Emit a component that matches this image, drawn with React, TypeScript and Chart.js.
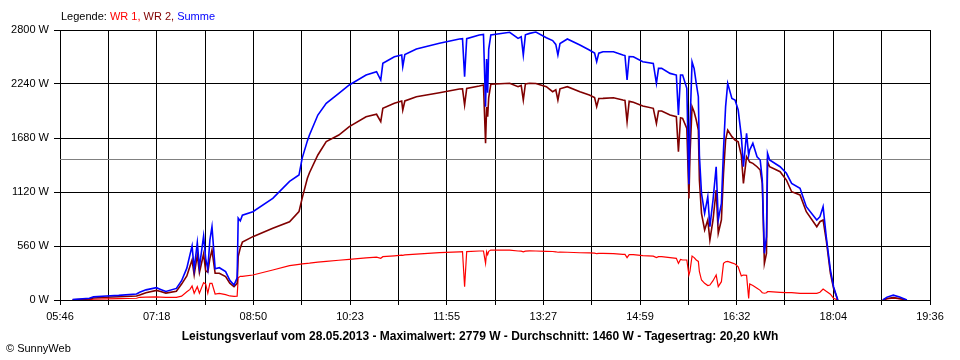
import React, { useEffect, useRef } from "react";
import { Chart, registerables } from "chart.js";

Chart.register(...registerables);

// ---- data ----
const times = [
  "05:58","06:14","06:18","06:30","06:42","06:59","07:02","07:08","07:18","07:22",
  "07:27","07:37","07:42","07:47","07:50","07:52","07:54","07:57","07:59","08:03",
  "08:05","08:07","08:09","08:11","08:14","08:18","08:24","08:28","08:32","08:35",
  "08:36","08:38","08:40","08:50","09:09","09:25","09:34","09:37","09:42","09:44",
  "09:52","10:00","10:12","10:22","10:38","10:48","10:52","10:54","11:05","11:12",
  "11:13","11:15","11:26","11:48","12:07","12:10","12:12","12:14","12:26","12:30",
  "12:32","12:33","12:34","12:35","12:37","12:55","13:03","13:06","13:08","13:10",
  "13:14","13:20","13:30","13:36","13:39","13:41","13:43","13:50","14:02","14:11",
  "14:16","14:18","14:20","14:24","14:34","14:43","14:45","14:47","14:49","14:53",
  "15:02","15:12","15:15","15:17","15:20","15:28","15:34","15:36","15:38","15:40",
  "15:44","15:46","15:47","15:49","15:51","15:53","15:55","15:56","15:58","16:01",
  "16:04","16:06","16:09","16:12","16:14","16:17","16:19","16:21","16:23","16:27",
  "16:30","16:33","16:36","16:38","16:41","16:43","16:44","16:47","16:51","16:54",
  "16:56","16:58","17:00","17:01","17:03","17:13","17:19","17:24","17:32","17:38",
  "17:48","17:51","17:54","17:57","18:01","18:04","18:08","18:30","18:51","18:55",
  "19:01","19:07","19:14"
];

const summe = [
  5,18,32,42,48,62,80,105,128,110,
  88,120,200,330,470,560,320,594,340,664,
  430,320,620,760,325,335,295,205,155,230,
  850,820,880,916,1054,1230,1296,1469,1650,1711,
  1918,2040,2143,2230,2333,2368,2281,2454,2523,2540,
  2420,2545,2603,2662,2707,2710,2316,2710,2748,2755,
  2005,2500,2150,2600,2748,2776,2713,2730,2540,2750,
  2765,2779,2720,2690,2650,2540,2660,2707,2644,2592,
  2560,2471,2560,2575,2575,2540,2535,2281,2525,2523,
  2471,2454,2247,2402,2402,2350,2333,1918,2333,2333,
  2195,1200,1800,2471,2400,2247,2108,1500,1106,899,
  1071,760,1037,1382,830,1003,1556,2005,2247,2091,
  2074,1970,1700,1382,1729,1500,1556,1625,1486,1452,
  1244,484,657,1521,1452,1382,1314,1210,1158,968,
  830,864,968,657,311,138,0,null,0,30,
  50,30,0
];

const wr2 = [
  3,10,20,28,33,42,52,75,100,88,
  72,90,165,250,350,415,260,467,285,477,
  300,290,430,518,277,277,242,175,138,173,
  450,540,600,657,743,812,916,1054,1262,1320,
  1504,1642,1711,1798,1901,1926,1849,1988,2040,2064,
  1970,2064,2108,2150,2188,2190,2022,2195,2219,2230,
  1625,2000,1900,2100,2237,2247,2212,2225,2074,2240,
  2247,2245,2212,2160,2180,2074,2190,2212,2160,2126,
  2100,2005,2090,2091,2098,2074,2070,1849,2060,2050,
  2012,1988,1832,1960,1960,1918,1901,1538,1890,1884,
  1780,1054,1500,2005,1950,1867,1763,1244,899,726,
  830,622,830,1141,692,830,1314,1659,1763,1694,
  1659,1640,1500,1210,1486,1450,1430,1417,1382,1348,
  1210,380,484,1434,1382,1331,1244,1123,1089,916,
  760,812,830,622,277,121,0,null,0,15,
  25,15,0
];

const wr1 = [
  0,4,8,12,14,18,28,30,33,30,
  27,28,40,85,110,145,70,138,70,180,
  165,70,173,173,62,69,55,42,38,40,
  230,245,245,259,311,356,370,375,380,382,
  392,400,412,422,437,445,432,449,458,465,
  462,467,475,491,500,501,138,502,508,508,
  380,500,470,505,518,518,508,507,500,507,
  510,508,505,503,500,495,497,495,490,488,
  486,480,484,484,480,474,473,440,470,470,
  460,455,440,450,449,440,432,380,420,415,
  415,259,300,456,440,415,400,293,207,173,
  150,155,200,259,138,190,380,397,400,385,
  373,345,250,259,255,17,166,150,121,100,
  75,70,75,86,86,80,76,76,69,69,
  69,80,114,90,60,17,0,null,0,12,
  20,12,0
];

const xTickLabels = ["05:46","07:18","08:50","10:23","11:55","13:27","14:59","16:32","18:04","19:36"];
const yMax = 2800;
const yStep = 560;
const averageW = 1460;

const legendParts = [
  { text: "Legende: ", color: "#000000" },
  { text: "WR 1, ", color: "#ff0000" },
  { text: "WR 2, ", color: "#800000" },
  { text: "Summe", color: "#0000ff" },
];
const caption = "Leistungsverlauf vom 28.05.2013 - Maximalwert: 2779 W - Durchschnitt: 1460 W - Tagesertrag: 20,20 kWh";
const copyright = "\u00A9 SunnyWeb";

// ---- helpers ----
const toMin = (t: string) => {
  const [h, m] = t.split(":").map(Number);
  return h * 60 + m;
};
const FONT = '"Liberation Sans", Arial, sans-serif';

const toPoints = (vals: (number | null)[]) =>
  times.map((t, i) => ({ x: toMin(t), y: vals[i] }));

export default function App() {
  const ref = useRef<HTMLCanvasElement | null>(null);

  useEffect(() => {
    if (!ref.current) return;
    const xMin = toMin(xTickLabels[0]);
    const xMax = toMin(xTickLabels[xTickLabels.length - 1]);
    const nGrid = (xTickLabels.length - 1) * 2;

    const overlay = {
      id: "overlay",
      beforeDatasetsDraw(chart: any) {
        const { ctx, chartArea, scales } = chart;
        const y = Math.round(scales.y.getPixelForValue(averageW)) + 0.5;
        ctx.save();
        ctx.strokeStyle = "#808080";
        ctx.lineWidth = 1;
        ctx.beginPath();
        ctx.moveTo(chartArea.left, y);
        ctx.lineTo(chartArea.right, y);
        ctx.stroke();
        ctx.restore();
      },
      afterDraw(chart: any) {
        const { ctx, chartArea } = chart;
        ctx.save();
        ctx.textBaseline = "middle";
        ctx.textAlign = "left";
        ctx.font = "11px " + FONT;
        let x = chartArea.left + 1;
        for (const p of legendParts) {
          ctx.fillStyle = p.color;
          ctx.fillText(p.text, x, 17);
          x += ctx.measureText(p.text).width;
        }
        ctx.fillStyle = "#000000";
        ctx.font = "bold 12px " + FONT;
        ctx.textAlign = "center";
        ctx.fillText(caption, 480, 337);
        ctx.font = "11px " + FONT;
        ctx.textAlign = "left";
        ctx.fillText(copyright, 6, 349);
        ctx.restore();
      },
    };

    const chart = new Chart(ref.current, {
      type: "line",
      data: {
        datasets: [
          {
            label: "Summe",
            data: toPoints(summe),
            borderColor: "#0000ff",
            borderWidth: 1.6,
            pointRadius: 0,
            tension: 0,
            order: 0,
          },
          {
            label: "WR 2",
            data: toPoints(wr2),
            borderColor: "#800000",
            borderWidth: 1.6,
            pointRadius: 0,
            tension: 0,
            order: 1,
          },
          {
            label: "WR 1",
            data: toPoints(wr1),
            borderColor: "#ff0000",
            borderWidth: 1.2,
            pointRadius: 0,
            tension: 0,
            order: 2,
          },
        ],
      },
      options: {
        responsive: false,
        animation: false,
        spanGaps: false,
        layout: { padding: { top: 30, right: 30, left: 0, bottom: 0 } },
        plugins: {
          legend: { display: false },
          tooltip: { enabled: false },
          title: { display: false },
        },
        scales: {
          x: {
            type: "linear",
            min: xMin,
            max: xMax,
            afterBuildTicks: (s: any) => {
              s.ticks = Array.from({ length: nGrid + 1 }, (_, i) => ({
                value: xMin + ((xMax - xMin) * i) / nGrid,
              }));
            },
            afterFit: (s: any) => {
              s.height = 60;
            },
            ticks: {
              autoSkip: false,
              maxRotation: 0,
              minRotation: 0,
              padding: 5,
              color: "#000000",
              font: { family: FONT, size: 11 },
              callback: (_v: any, i: number) => (i % 2 === 0 ? xTickLabels[i / 2] : ""),
            },
            grid: { color: "#000000", lineWidth: 1, tickLength: 5, drawTicks: true },
            border: { color: "#000000", width: 1 },
          },
          y: {
            min: 0,
            max: yMax,
            afterFit: (s: any) => {
              s.width = 60;
            },
            ticks: {
              stepSize: yStep,
              padding: 5,
              color: "#000000",
              font: { family: FONT, size: 11 },
              callback: (v: any) => v + " W",
            },
            grid: { color: "#000000", lineWidth: 1, tickLength: 6, drawTicks: true },
            border: { color: "#000000", width: 1 },
          },
        },
      },
      plugins: [overlay],
    } as any);

    return () => chart.destroy();
  }, []);

  return (
    <div style={{ position: "absolute", left: 0, top: 0, width: 960, height: 360, background: "#ffffff" }}>
      <canvas ref={ref} width={960} height={360} style={{ display: "block" }} />
    </div>
  );
}
